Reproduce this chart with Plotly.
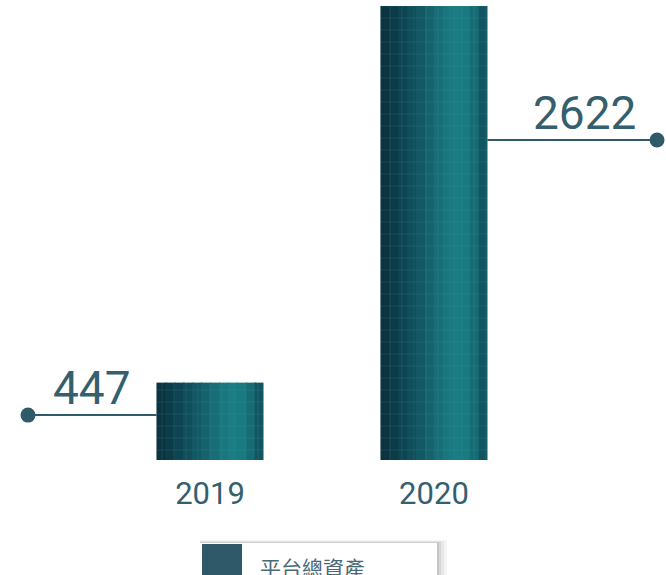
import plotly.graph_objects as go

# ---- data ----
categories = ["2019", "2020"]
values = [447, 2622]
value_labels = ["447", "2622"]
series_name = "平台總資產"

# ---- style ----
W, H = 666, 575
plot_bottom = 460
bar_width = 0.478
text_color = "#34606e"
line_color = "#2e5a69"

ymax = max(values) * plot_bottom / 454.0
xrange = [-0.9375, 2.036]

fig = go.Figure()

# gradient strips making up each bar (all share the same values)
strip_colors = ["#0b3440", "#0d3c49", "#0f4552", "#114e5b", "#135864", "#16636d",
                "#186d76", "#1a767e", "#1b7c83", "#1a7a81", "#166c74", "#115560"]
N = len(strip_colors)
sw = bar_width / N
for i, c in enumerate(strip_colors):
    fig.add_trace(go.Bar(
        x=[0, 1], y=values, width=sw * (1.15 if i < N - 1 else 1.0),
        offset=-bar_width / 2 + i * sw,
        marker=dict(color=c, line=dict(width=0),
                    pattern=dict(shape="+", fgcolor="rgba(80,185,190,0.5)",
                                 size=12, solidity=0.08)),
        showlegend=False, hoverinfo="skip", name=series_name,
    ))

# leader lines and dots
label_frac = [0.58, 0.705]
dot_x = [-0.8125, 1.996]
edge_x = [-bar_width / 2, 1 + bar_width / 2]
label_x = [-0.527, 1.674]
for k, v in enumerate(values):
    ly = v * label_frac[k]
    fig.add_shape(type="line", xref="x", yref="y", x0=dot_x[k], x1=edge_x[k], y0=ly, y1=ly,
                  line=dict(color=line_color, width=2), layer="below")
    fig.add_annotation(x=label_x[k], y=ly, xref="x", yref="y", text=value_labels[k],
                       showarrow=False, xanchor="center", yanchor="bottom", yshift=-2,
                       font=dict(family="Roboto", size=46, color=text_color))
fig.add_trace(go.Scatter(x=dot_x, y=[v * f for v, f in zip(values, label_frac)],
                         mode="markers", marker=dict(size=15, color=line_color),
                         cliponaxis=False, showlegend=False, hoverinfo="skip"))

# custom legend (box with soft shadow, swatch and label)
def px_x(p):
    return p / W

def px_y(p):
    return (plot_bottom - p) / plot_bottom

for d, op in [(10, 0.04), (7, 0.05), (4, 0.07), (2, 0.08)]:
    fig.add_shape(type="rect", xref="paper", yref="paper",
                  x0=px_x(200), x1=px_x(437 + d), y0=px_y(543 - d * 0.3), y1=px_y(600),
                  fillcolor=f"rgba(0,0,0,{op})", line=dict(width=0))
fig.add_shape(type="rect", xref="paper", yref="paper",
              x0=px_x(200), x1=px_x(437), y0=px_y(543), y1=px_y(600),
              fillcolor="white", line=dict(width=0))
fig.add_shape(type="rect", xref="paper", yref="paper",
              x0=px_x(202), x1=px_x(242), y0=px_y(544), y1=px_y(600),
              fillcolor="#2f5868", line=dict(width=0))
fig.add_annotation(xref="paper", yref="paper", x=px_x(258), y=px_y(567), text=series_name,
                   showarrow=False, xanchor="left", yanchor="middle",
                   font=dict(family="Noto Sans CJK TC", size=21, color="#4a6a76"))

fig.update_layout(
    width=W, height=H,
    margin=dict(l=0, r=0, t=0, b=H - plot_bottom),
    paper_bgcolor="white", plot_bgcolor="white",
    barmode="overlay", showlegend=False,
    xaxis=dict(range=xrange, tickmode="array", tickvals=[0, 1], ticktext=categories,
               showgrid=False, zeroline=False, showline=False,
               ticks="outside", ticklen=6, tickcolor="rgba(0,0,0,0)",
               tickfont=dict(family="Roboto", size=31, color=text_color)),
    yaxis=dict(range=[0, ymax], visible=False, showgrid=False, zeroline=False),
)

fig.write_html("out.html", config={"displayModeBar": False},
               post_script="document.body.style.margin='0';document.body.style.overflow='hidden';")
